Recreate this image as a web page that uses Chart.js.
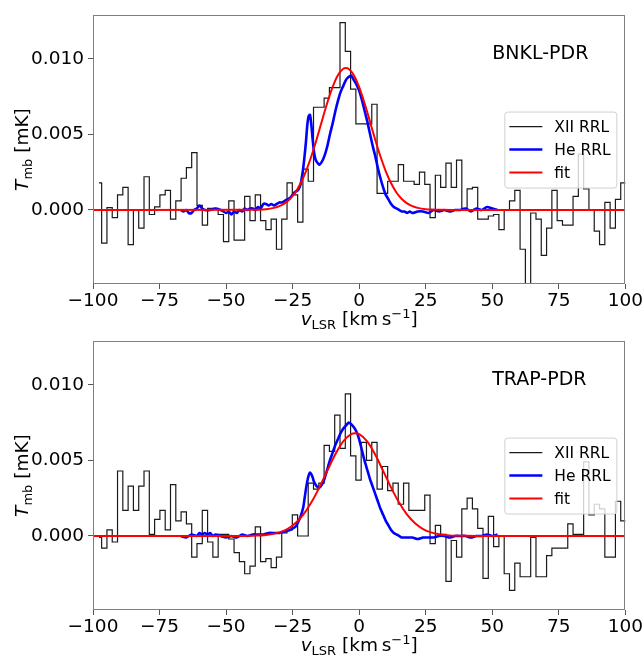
<!DOCTYPE html>
<html>
<head>
<meta charset="utf-8">
<script src="https://cdn.jsdelivr.net/npm/chart.js@4/dist/chart.umd.min.js"></script>
<style>
  html, body { margin: 0; padding: 0; background: #ffffff; overflow: hidden; }
  body { width: 644px; height: 656px; position: relative; }
  .panel { position: absolute; left: 0; }
</style>
</head>
<body>
<div class="panel" style="top:0px"><canvas id="c1" width="644" height="330"></canvas></div>
<div class="panel" style="top:326px"><canvas id="c2" width="644" height="330"></canvas></div>
<script>
// ---------------- DATA ----------------
const panelNames = ["BNKL-PDR", "TRAP-PDR"];
const seriesLabels = ["XII RRL", "He RRL", "fit"];
const xTickValues = [-100, -75, -50, -25, 0, 25, 50, 75, 100];
const yTickValues = [0.000, 0.005, 0.010];

// channel centres of the XII RRL spectra (km/s)
const velocity = [-97.75,-95.76,-93.77,-91.78,-89.79,-87.80,-85.81,-83.82,-81.83,-79.84,
  -77.85,-75.86,-73.87,-71.88,-69.89,-67.90,-65.91,-63.92,-61.93,-59.94,
  -57.95,-55.96,-53.97,-51.98,-49.99,-48.00,-46.01,-44.02,-42.03,-40.04,
  -38.05,-36.06,-34.07,-32.08,-30.09,-28.10,-26.11,-24.12,-22.13,-20.14,
  -18.15,-16.16,-14.17,-12.18,-10.19,-8.20,-6.21,-4.22,-2.23,-0.24,
  1.75,3.74,5.73,7.72,9.71,11.70,13.69,15.68,17.67,19.66,
  21.65,23.64,25.63,27.62,29.61,31.60,33.59,35.58,37.57,39.56,
  41.55,43.54,45.53,47.52,49.51,51.50,53.49,55.48,57.47,59.46,
  61.45,63.44,65.43,67.42,69.41,71.40,73.39,75.38,77.37,79.36,
  81.35,83.34,85.33,87.32,89.31,91.30,93.29,95.28,97.27,99.26,101.25];

const xiiBNKL = [0.0018,-0.0022,0.00015,-0.0005,0.0010,0.0015,-0.0023,0.0000,-0.0012,0.0022,
  -0.0003,0.0002,0.0010,0.0013,-0.0006,0.0006,0.0021,0.0028,0.0038,0.0003,
  -0.0010,0.0001,0.0001,-0.0003,-0.0021,0.0006,-0.0020,-0.0020,0.0009,-0.0007,
  0.0010,-0.0007,-0.0013,-0.0006,-0.0026,-0.0006,0.0018,0.0010,-0.0008,0.0027,
  0.0019,0.0068,0.0068,0.0074,0.0081,0.0081,0.0124,0.0105,0.0080,0.0057,
  0.0057,0.0057,0.0070,0.0011,0.0011,0.0019,0.0019,0.0030,0.0019,0.0019,
  0.0017,0.0025,0.0017,-0.0005,0.0023,0.0015,0.0031,0.0015,0.0033,0.0001,
  0.0014,0.0015,-0.0006,-0.0006,-0.0004,-0.0003,-0.0013,0.0000,0.0006,0.0013,
  -0.0026,-0.0062,-0.0002,-0.0006,-0.0030,-0.0012,0.0013,-0.0007,-0.0010,-0.0010,
  0.0009,0.0037,0.0014,0.0000,-0.0014,-0.0023,0.0005,-0.0012,0.0007,0.0018,0.0018];

const xiiTRAP = [-0.0001,-0.0008,0.0004,-0.0004,0.0043,0.0017,0.0033,0.0017,0.0033,0.0043,
  0.0001,0.0011,0.0017,0.0004,0.0034,0.0010,0.0016,0.0008,-0.0014,-0.0005,
  0.0017,-0.0004,-0.0014,0.0001,0.0001,-0.0002,-0.0011,-0.0017,-0.0025,-0.0020,
  0.0006,-0.0017,-0.0015,-0.0021,-0.0014,0.0002,0.0004,0.0014,0.0000,0.0000,
  0.0035,0.0031,0.0035,0.0060,0.0056,0.0080,0.0058,0.0094,0.0053,0.0037,
  0.0062,0.0050,0.0062,0.0031,0.0046,0.0030,0.0035,0.0021,0.0035,0.0017,
  0.0017,0.0017,0.0027,-0.0005,0.0007,0.0001,-0.0030,-0.0003,-0.0014,0.0018,
  0.0025,0.0018,0.0005,-0.0028,0.0013,-0.0007,0.0000,-0.0025,-0.0036,-0.0018,
  -0.0027,-0.0027,-0.0001,-0.0027,-0.0027,-0.0013,-0.0008,-0.0008,-0.0008,0.0008,
  0.0001,0.0001,0.0049,0.0014,0.0021,0.0018,-0.0014,-0.0014,0.0023,0.0010,0.0010];

const heVelBNKL = [-67,-66,-65,-64,-63,-62,-61,-60,-59,-58,-56,-54,-52,-50,-49,-48,-47,-46,-45,-44,
  -43,-42,-41,-40,-39,-38,-37,-36,-35,-34,-33,-32,-31,-30,-29,-28,-27,-26,-25,-24,
  -23,-22,-21.5,-21,-20.5,-20,-19.5,-19,-18.5,-18,-17.5,-17,-16.5,-16,-15,-14,-13,-12,-11,-10,
  -9,-8,-7,-6,-5,-4,-3,-2,-1,0,1,2,3,4,5,6,7,8,9,10,
  11,12,13,14,15,16,17,18,19,20,22,24,26,28,30,32,34,36,38,40,
  42,44,46,48,50,52];
const heBNKL = [0.0000,-0.0001,0.0000,-0.0002,-0.0002,0.0000,0.0001,0.0003,0.0001,0.0000,0.0000,0.0001,0.0000,-0.0002,-0.0001,-0.0003,-0.0001,-0.0002,0.0000,-0.0001,
  0.0001,0.0000,0.0001,0.0001,0.0000,0.0002,0.0001,0.0004,0.0004,0.0003,0.0004,0.0003,0.0004,0.0005,0.0005,0.0006,0.0007,0.0008,0.0010,0.0012,
  0.0013,0.0017,0.0022,0.0028,0.0036,0.0045,0.0056,0.0062,0.0063,0.0057,0.0047,0.0039,0.0034,0.0032,0.0030,0.0032,0.0036,0.0042,0.0050,0.0057,
  0.0065,0.0072,0.0078,0.0082,0.0086,0.0088,0.0089,0.0086,0.0083,0.0079,0.0073,0.0066,0.0059,0.0051,0.0043,0.0036,0.0028,0.0021,0.0015,0.0010,
  0.0007,0.0004,0.0002,0.0001,0.0000,-0.0001,-0.0001,-0.0002,-0.0001,-0.0002,-0.0001,-0.0001,-0.0002,0.0000,-0.0001,0.0000,-0.0001,0.0000,0.0000,0.0001,
  -0.0001,0.0001,0.0000,0.0002,0.0001,0.0000];

const heVelTRAP = [-67,-65,-63,-61,-60,-59,-58,-57,-56,-55,-54,-52,-50,-48,-46,-44,-42,-40,-38,-36,
  -34,-32,-30,-28,-26,-25,-24,-23,-22,-21,-20.5,-20,-19.5,-19,-18.5,-18,-17.5,-17,-16,-15,
  -14,-13,-12,-11,-10,-9,-8,-7,-6,-5,-4,-3,-2,-1,0,1,2,3,4,5,
  6,7,8,9,10,11,12,13,14,15,16,18,20,22,24,26,28,30,32,34,
  36,38,40,42,44,46,48,50,52];
const heTRAP = [0.0000,-0.0001,0.0001,0.0000,0.0002,0.0001,0.0002,0.0001,0.0002,0.0000,0.0001,0.0000,-0.0001,0.0000,-0.0001,0.0001,0.0000,0.0001,0.0001,0.0001,
  0.0002,0.0002,0.0002,0.0003,0.0004,0.0005,0.0006,0.0009,0.0013,0.0019,0.0025,0.0031,0.0036,0.0040,0.0042,0.0041,0.0039,0.0036,0.0033,0.0032,
  0.0034,0.0038,0.0044,0.0050,0.0055,0.0060,0.0064,0.0068,0.0071,0.0073,0.0075,0.0074,0.0072,0.0069,0.0064,0.0057,0.0050,0.0044,0.0038,0.0033,
  0.0028,0.0023,0.0018,0.0014,0.0010,0.0007,0.0004,0.0002,0.0001,0.0000,-0.0001,-0.0001,-0.0001,-0.0002,-0.0001,-0.0001,-0.0001,0.0000,0.0000,-0.0001,
  0.0000,0.0000,0.0000,-0.0001,0.0000,0.0000,0.0001,0.0000,0.0001];

const fitVelBNKL = [-100,-40,-35,-32,-30,-28,-26,-24,-22,-20,-18,-16,-14,-12,-10,-8,-6,-5,-4,-2,
  0,2,4,6,8,10,12,14,16,18,20,22,25,28,30,35,100];
const fitBNKL = [0,0.00001,0.00005,0.00014,0.00025,0.00044,0.00073,0.00116,0.00177,0.00256,0.00354,0.00467,0.00589,0.00708,0.00813,0.00892,0.00935,0.0094,0.00935,0.00892,
  0.00813,0.00708,0.00589,0.00467,0.00354,0.00256,0.00177,0.00116,0.00073,0.00044,0.00025,0.00014,0.00005,0.00002,0.00001,0,0];

const fitVelTRAP = [-100,-45,-40,-35,-30,-27,-24,-21,-18,-15,-12,-9,-6,-3,-1.5,0,3,6,9,12,
  15,18,21,24,27,30,34,40,45,100];
const fitTRAP = [0,0,0.00002,0.00007,0.00024,0.00046,0.00084,0.00141,0.00221,0.0032,0.00431,0.00539,0.00626,0.00674,0.0068,0.00674,0.00626,0.00539,0.00431,0.0032,
  0.00221,0.00141,0.00084,0.00046,0.00024,0.00012,0.00004,0.00001,0,0];

// ---------------- DRAWING ----------------
const FAMILY = '"DejaVu Sans", sans-serif';
const TICK_SIZE = 18.5;

function pts(xs, ys) { return xs.map((x, i) => ({ x: x, y: ys[i] })); }
function fmtX(v) { return (v < 0 ? '\u2212' + Math.abs(v) : String(v)); }

function drawRich(ctx, parts, x, y) {
  let w = 0;
  parts.forEach(p => { ctx.font = p.font; p.w = ctx.measureText(p.t).width; w += p.w; });
  let cx = x - w / 2;
  parts.forEach(p => { ctx.font = p.font; ctx.fillText(p.t, cx, y + (p.dy || 0)); cx += p.w; });
}

const decorPlugin = {
  id: 'decor',
  afterDatasetsDraw(chart) {
    const { ctx, chartArea: a } = chart;
    ctx.save();
    ctx.strokeStyle = '#7f7f7f';
    ctx.lineWidth = 1;
    ctx.strokeRect(Math.round(a.left) + 0.5, Math.round(a.top) + 0.5,
                   Math.round(a.right - a.left) - 1, Math.round(a.bottom - a.top) - 1);
    ctx.restore();
  },
  afterDraw(chart) {
    const { ctx, chartArea: a } = chart;
    const o = chart.options.plugins.decor;
    const W = a.right - a.left, H = a.bottom - a.top;
    ctx.save();
    ctx.fillStyle = '#000';
    ctx.textBaseline = 'alphabetic';
    // panel name
    ctx.font = '19px ' + FAMILY;
    ctx.textAlign = 'left';
    ctx.textBaseline = 'middle';
    ctx.fillText(o.name, a.left + 0.75 * W, a.top + 0.145 * H);
    // legend
    const bw = 112, bh = 76;
    const bx = a.right - 9 - bw, by = (a.top + a.bottom) / 2 - bh / 2;
    ctx.beginPath();
    if (ctx.roundRect) ctx.roundRect(bx + 0.5, by + 0.5, bw, bh, 3); else ctx.rect(bx + 0.5, by + 0.5, bw, bh);
    ctx.fillStyle = 'rgba(255,255,255,0.8)';
    ctx.fill();
    ctx.strokeStyle = '#d0d0d0';
    ctx.lineWidth = 1;
    ctx.stroke();
    const rows = [15, 38, 61];
    chart.data.datasets.forEach((ds, i) => {
      const yy = by + rows[i];
      ctx.beginPath();
      ctx.moveTo(bx + 5, yy); ctx.lineTo(bx + 38, yy);
      ctx.strokeStyle = ds.borderColor; ctx.lineWidth = ds.borderWidth;
      ctx.stroke();
      ctx.fillStyle = '#000';
      ctx.font = '15.5px ' + FAMILY;
      ctx.textAlign = 'left';
      ctx.textBaseline = 'middle';
      ctx.fillText(ds.label, bx + 50, yy + 1);
    });
    // x-axis title
    ctx.textAlign = 'left';
    ctx.textBaseline = 'alphabetic';
    ctx.fillStyle = '#000';
    const big = TICK_SIZE + 'px ' + FAMILY, small = '13px ' + FAMILY;
    drawRich(ctx, [
      { t: 'v', font: 'italic ' + big },
      { t: 'LSR', font: small, dy: 4 },
      { t: ' [km\u2009s', font: big },
      { t: '\u22121', font: small, dy: -7 },
      { t: ']', font: big }
    ], (a.left + a.right) / 2, a.bottom + 41);
    // y-axis title
    ctx.save();
    ctx.translate(28, (a.top + a.bottom) / 2);
    ctx.rotate(-Math.PI / 2);
    drawRich(ctx, [
      { t: 'T', font: 'italic ' + big },
      { t: 'mb', font: small, dy: 4 },
      { t: ' [mK]', font: big }
    ], 0, 0);
    ctx.restore();
    ctx.restore();
  }
};

function makePanel(id, name, xii, heV, he, fitV, fit) {
  return new Chart(document.getElementById(id), {
    type: 'line',
    data: {
      datasets: [
        { label: seriesLabels[0], data: pts(velocity, xii), stepped: 'middle',
          borderColor: '#1a1a1a', borderWidth: 1.2, pointRadius: 0, order: 3, clip: 0 },
        { label: seriesLabels[1], data: pts(heV, he), borderColor: '#0000ff',
          borderWidth: 2.6, pointRadius: 0, tension: 0.2, order: 2, clip: 0 },
        { label: seriesLabels[2], data: pts(fitV, fit), borderColor: '#ff0000',
          borderWidth: 2, pointRadius: 0, cubicInterpolationMode: 'monotone', order: 1, clip: 0 }
      ]
    },
    options: {
      responsive: false,
      animation: false,
      events: [],
      layout: { padding: { top: 13, right: 18, left: 0, bottom: 0 } },
      plugins: { legend: { display: false }, tooltip: { enabled: false }, decor: { name: name } },
      scales: {
        x: {
          type: 'linear', min: -100, max: 100,
          afterFit: s => { s.height = 46; },
          afterBuildTicks: s => { s.ticks = xTickValues.map(v => ({ value: v })); },
          ticks: { autoSkip: false, maxRotation: 0, color: '#000', padding: 1,
                   font: { family: FAMILY, size: TICK_SIZE }, callback: v => fmtX(v) },
          grid: { drawOnChartArea: false, tickLength: 5, tickColor: '#555' },
          border: { display: false }
        },
        y: {
          min: -0.0049, max: 0.0129,
          afterFit: s => { s.width = 93; },
          afterBuildTicks: s => { s.ticks = yTickValues.map(v => ({ value: v })); },
          ticks: { color: '#000', padding: 4, font: { family: FAMILY, size: TICK_SIZE },
                   callback: v => Number(v).toFixed(3) },
          grid: { drawOnChartArea: false, tickLength: 5, tickColor: '#555' },
          border: { display: false }
        }
      }
    },
    plugins: [decorPlugin]
  });
}

makePanel('c1', panelNames[0], xiiBNKL, heVelBNKL, heBNKL, fitVelBNKL, fitBNKL);
makePanel('c2', panelNames[1], xiiTRAP, heVelTRAP, heTRAP, fitVelTRAP, fitTRAP);
</script>
</body>
</html>
